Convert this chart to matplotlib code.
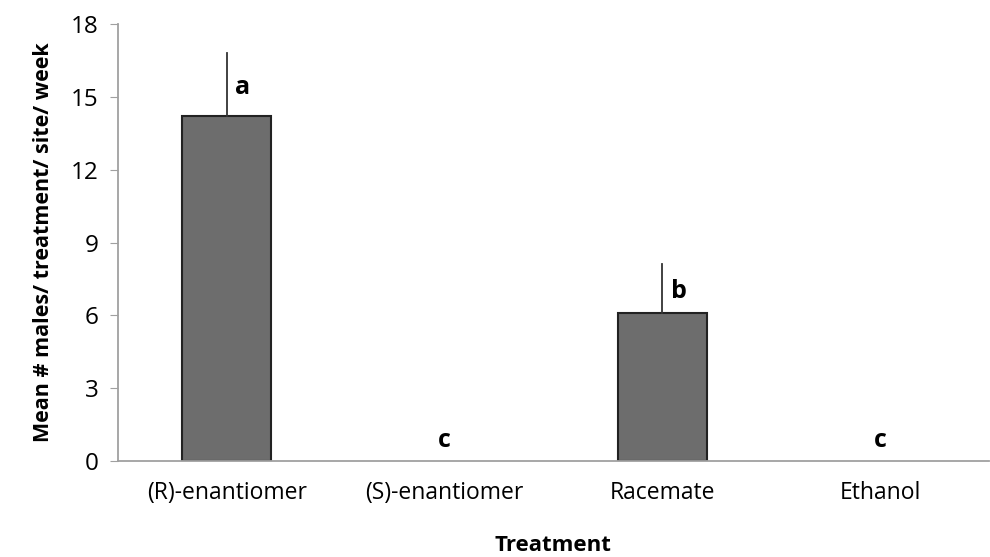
import numpy as np
from matplotlib import pyplot as plt

treatments = ['(R)-enantiomer', '(S)-enantiomer', 'Racemate', 'Ethanol']
means = [14.2, 0.0, 6.1, 0.0]
errors = [2.6, 0.0, 2.0, 0.0]
letters = ['a', 'c', 'b', 'c']

plt.rcParams['font.family'] = ['Open Sans', 'DejaVu Sans']

fig = plt.figure(figsize=(9.9, 5.57), dpi=100)
ax = fig.add_axes([0.119, 0.172, 0.880, 0.785])

x = np.arange(len(treatments))
bars = ax.bar(x, means, width=0.41, color='#6d6d6d', edgecolor='#222222', linewidth=1.5, zorder=2)
for b, m in zip(bars, means):
    if m == 0:
        b.set_visible(False)
for xi, m, e in zip(x, means, errors):
    if e > 0:
        ax.plot([xi, xi], [m, m + e], color='#333333', linewidth=1.3, zorder=3)

# significance letters
for xi, m, e, lab in zip(x, means, errors, letters):
    if m > 0:
        ax.text(xi + 0.04, m + e * 0.45, lab, fontsize=18, fontweight='bold', ha='left', va='center')
    else:
        ax.text(xi, 0.85, lab, fontsize=18, fontweight='bold', ha='center', va='center')

ax.set_xlim(-0.5, 3.5)
ax.set_ylim(0, 18)
ax.set_yticks(np.arange(0, 19, 3))
ax.set_xticks(x)
ax.set_xticklabels(treatments)
ax.tick_params(axis='y', direction='out', length=6, color='#a0a0a0', labelsize=17.5, pad=8)
ax.tick_params(axis='x', length=0, labelsize=16.5, pad=14)
for s in ['top', 'right']:
    ax.spines[s].set_visible(False)
for s in ['left', 'bottom']:
    ax.spines[s].set_color('#a0a0a0')
    ax.spines[s].set_linewidth(1.3)

ax.set_ylabel('Mean # males/ treatment/ site/ week', fontsize=15.5, fontweight='bold', labelpad=12)
ax.set_xlabel('Treatment', fontsize=16, fontweight='bold', labelpad=22)

plt.savefig('out.png', dpi=100)
